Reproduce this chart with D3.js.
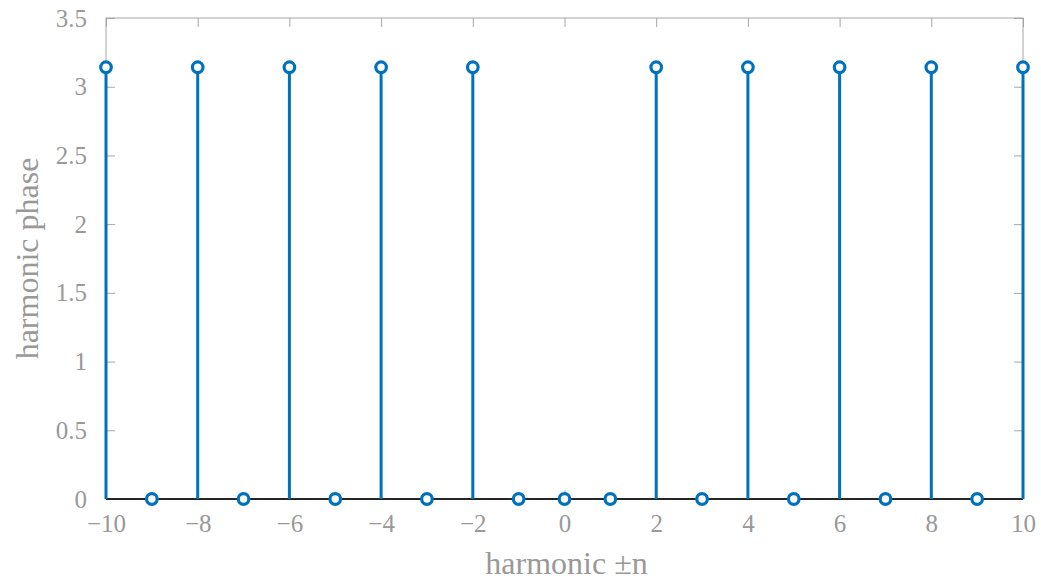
<!DOCTYPE html>
<html><head><meta charset="utf-8">
<script src="https://cdn.jsdelivr.net/npm/d3@7"></script>
<style>body{margin:0;background:#fff}svg{display:block}</style>
</head><body>
<svg id="c" width="1041" height="580"></svg>
<script>
const harmonics = [-10,-9,-8,-7,-6,-5,-4,-3,-2,-1,0,1,2,3,4,5,6,7,8,9,10];
const phases = [3.1416,0,3.1416,0,3.1416,0,3.1416,0,3.1416,0,0,0,3.1416,0,3.1416,0,3.1416,0,3.1416,0,3.1416];
const xTicks = [-10,-8,-6,-4,-2,0,2,4,6,8,10];
const yTicks = [0,0.5,1,1.5,2,2.5,3,3.5];
const xLabel = "harmonic \u00B1n";
const yLabel = "harmonic phase";

const svg = d3.select("#c");
const L=106, R=1023, T=18, B=499;
const x = d3.scaleLinear().domain([-10,10]).range([L,R]);
const y = d3.scaleLinear().domain([0,3.5]).range([B,T]);
const axisCol = "#a6a6a6", textCol = "#999999", font = "'Liberation Serif', serif";
const blue = "#0072BD";
const tl = 9;

const g = svg.append("g");
g.append("rect").attr("x",L).attr("y",T).attr("width",R-L).attr("height",B-T)
 .attr("fill","none").attr("stroke",axisCol).attr("stroke-width",1);

const ax = g.append("g").attr("transform",`translate(0,${B})`)
 .call(d3.axisBottom(x).tickValues(xTicks).tickSize(-tl).tickPadding(15)
   .tickFormat(d=> d<0 ? "\u2212"+Math.abs(d) : d));
const axT = g.append("g").attr("transform",`translate(0,${T})`)
 .call(d3.axisTop(x).tickValues(xTicks).tickSize(-tl).tickFormat(""));
const ay = g.append("g").attr("transform",`translate(${L},0)`)
 .call(d3.axisLeft(y).tickValues(yTicks).tickSize(-tl).tickPadding(19).tickFormat(d3.format("")));
const ayR = g.append("g").attr("transform",`translate(${R},0)`)
 .call(d3.axisRight(y).tickValues(yTicks).tickSize(-tl).tickFormat(""));
[ax,axT,ay,ayR].forEach(a=>{
  a.select(".domain").remove();
  a.selectAll(".tick line").attr("stroke",axisCol);
  a.selectAll("text").attr("fill",textCol).style("font-family",font).style("font-size","25px");
});
ax.selectAll("text").attr("dy","0.71em");

g.append("line").attr("x1",x(-10)).attr("x2",x(10)).attr("y1",y(0)).attr("y2",y(0))
 .attr("stroke","#262626").attr("stroke-width",2);

const data = harmonics.map((h,i)=>({h, v:phases[i]}));
g.selectAll(".stem").data(data.filter(d=>d.v!==0)).join("line")
 .attr("x1",d=>x(d.h)).attr("x2",d=>x(d.h)).attr("y1",y(0)).attr("y2",d=>y(d.v))
 .attr("stroke",blue).attr("stroke-width",3);
g.selectAll(".mk").data(data).join("circle")
 .attr("cx",d=>x(d.h)).attr("cy",d=>y(d.v)).attr("r",5.3)
 .attr("fill","#fff").attr("stroke",blue).attr("stroke-width",3.2);

svg.append("text").attr("x",(L+R)/2+2).attr("y",574).attr("text-anchor","middle")
 .attr("fill",textCol).style("font-family",font).style("font-size","32px").text(xLabel);
svg.append("text").attr("transform",`translate(38,${(T+B)/2}) rotate(-90)`).attr("text-anchor","middle")
 .attr("fill",textCol).style("font-family",font).style("font-size","32px").text(yLabel);
</script>
</body></html>
